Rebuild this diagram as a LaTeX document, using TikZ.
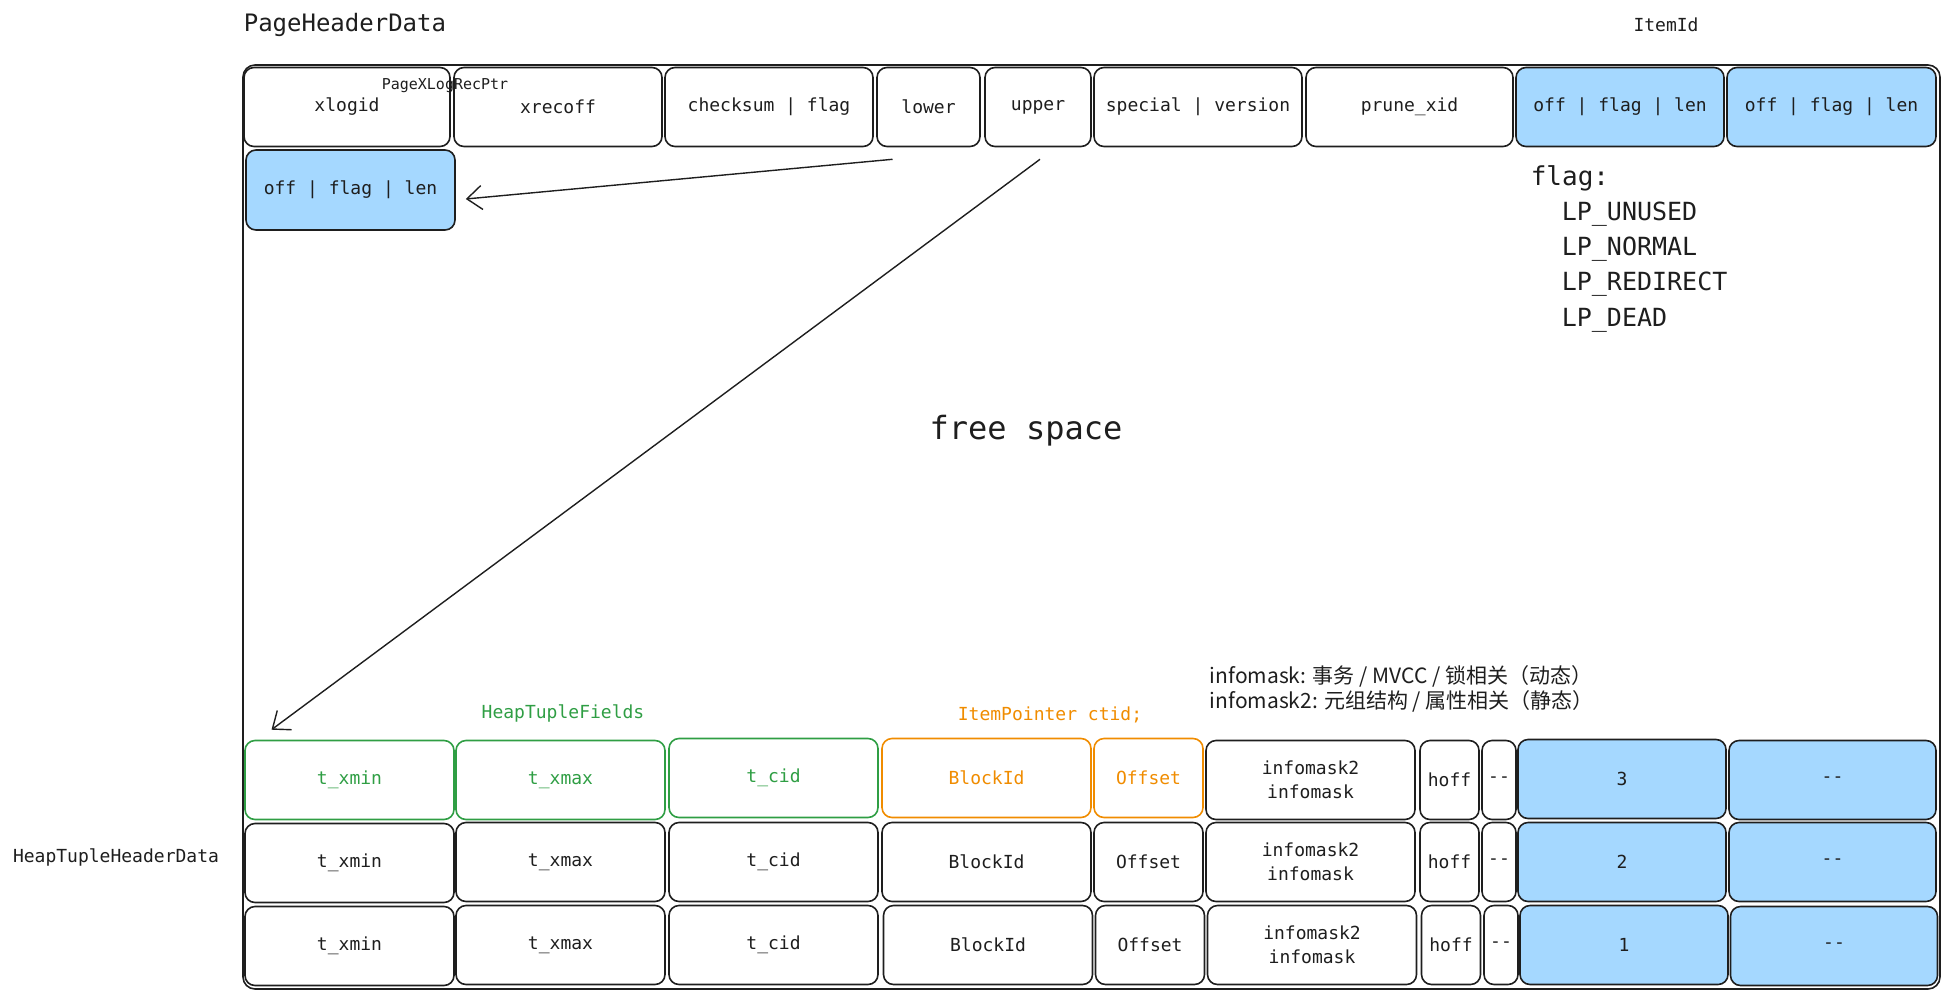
\documentclass[tikz,border=0pt]{standalone}
\usepackage{fontspec}
\setmainfont{DejaVu Sans Mono}
\newfontfamily\cjk{Noto Sans CJK SC}
\usetikzlibrary{arrows.meta}
\definecolor{ink}{HTML}{1E1E1E}
\definecolor{itemblue}{HTML}{A5D8FF}
\definecolor{fieldgreen}{HTML}{2F9E44}
\definecolor{ctidorange}{HTML}{F08C00}
\newcommand{\fsz}[2]{\fontsize{#1}{#2}\selectfont}

\tikzset{every picture/.style={line width=1.6pt},
	cell/.style={draw=ink,rounded corners=10pt,minimum height=79pt,inner sep=0pt,text=ink,font=\fsz{18}{24},align=center},
	idbox/.style={cell,fill=itemblue},
	greencell/.style={cell,draw=fieldgreen,text=fieldgreen},
	orangecell/.style={cell,draw=ctidorange,text=ctidorange},
	txt/.style={text=ink,inner sep=0pt,font=\fsz{18}{24}}}

\begin{document}
\begin{tikzpicture}[>={Straight Barb[length=15pt,width=24pt]},x=1pt,y=-1pt]
	\useasboundingbox (0,0) rectangle (1950,998);
	%Khung trang
	\draw[ink,rounded corners=12pt] (243,65) rectangle (1940,989);
	%Tieu de
	\node[txt,anchor=west,font=\fsz{24}{30}] (phd) at (243,25) {PageHeaderData};
	\node[txt] (itemid) at (1666,25) {ItemId};
	\node[txt] (heaphd) at (116,857) {HeapTupleHeaderData};
	%Hang dau: PageHeaderData
	\node[cell,minimum width=206pt] (xlogid) at (347,107) {xlogid};
	\node[cell,minimum width=208pt] (xrecoff) at (558,107) {xrecoff};
	\node[cell,minimum width=208pt] (checksum) at (769,107) {checksum | flag};
	\node[cell,minimum width=103pt] (lower) at (928.5,107) {lower};
	\node[cell,minimum width=106pt] (upper) at (1038,107) {upper};
	\node[cell,minimum width=208pt] (special) at (1198,107) {special | version};
	\node[cell,minimum width=207pt] (prune) at (1409.5,107) {prune\_xid};
	\node[idbox,minimum width=208pt] (lpa) at (1620,107) {off | flag | len};
	\node[idbox,minimum width=209pt] (lpb) at (1831.5,107) {off | flag | len};
	\node[txt,font=\fsz{15}{18}] (xlogptr) at (445,86) {PageXLogRecPtr};
	%ItemId moi
	\node[idbox,minimum width=209pt,minimum height=80pt] (slot) at (350.5,190) {off | flag | len};
	%Gia tri flag
	\node[txt,anchor=west,font=\fsz{26}{32}] (flagtitle) at (1530,178) {flag:};
	\node[txt,anchor=west,font=\fsz{25}{32}] (unused) at (1561,214) {LP\_UNUSED};
	\node[txt,anchor=west,font=\fsz{25}{32}] (normal) at (1561,249) {LP\_NORMAL};
	\node[txt,anchor=west,font=\fsz{25}{32}] (redirect) at (1561,284) {LP\_REDIRECT};
	\node[txt,anchor=west,font=\fsz{25}{32}] (dead) at (1561,320) {LP\_DEAD};
	%Vung trong
	\node[txt,font=\fsz{32}{38}] (free) at (1026,431) {free space};
	%Chu thich
	\node[txt,text=fieldgreen] (fields) at (563,713) {HeapTupleFields};
	\node[txt,text=ctidorange] (ctid) at (1050,715) {ItemPointer ctid;};
	\node[txt,anchor=west,align=left,font=\cjk\fsz{21}{25}] (masknote) at (1209,689) {infomask: 事务 / MVCC / 锁相关（动态）\\infomask2: 元组结构 / 属性相关（静态）};
	%Tuple 3
	\node[greencell,minimum width=209pt] (xmin1) at (349.5,780) {t\_xmin};
	\node[greencell,minimum width=209pt] (xmax1) at (560.5,780) {t\_xmax};
	\node[greencell,minimum width=209pt] (cid1) at (773.5,778) {t\_cid};
	\node[orangecell,minimum width=209pt] (blk1) at (986.5,778) {BlockId};
	\node[orangecell,minimum width=109pt] (off1) at (1148.5,778) {Offset};
	\node[cell,minimum width=209pt] (mask1) at (1310.5,780) {infomask2\\infomask};
	\node[cell,minimum width=59pt] (hoff1) at (1449.5,780) {hoff};
	\node[cell,minimum width=34pt] (pad1) at (1499,780) {-{}-};
	\node[idbox,minimum width=208pt] (data1) at (1622,779) {3};
	\node[idbox,minimum width=207pt] (tail1) at (1832.5,780) {-{}-};
	%Tuple 2
	\node[cell,minimum width=209pt] (xmin2) at (349.5,863) {t\_xmin};
	\node[cell,minimum width=209pt] (xmax2) at (560.5,862) {t\_xmax};
	\node[cell,minimum width=209pt] (cid2) at (773.5,862) {t\_cid};
	\node[cell,minimum width=209pt] (blk2) at (986.5,862) {BlockId};
	\node[cell,minimum width=109pt] (off2) at (1148.5,862) {Offset};
	\node[cell,minimum width=209pt] (mask2) at (1310.5,862) {infomask2\\infomask};
	\node[cell,minimum width=59pt] (hoff2) at (1449.5,862) {hoff};
	\node[cell,minimum width=34pt] (pad2) at (1499,862) {-{}-};
	\node[idbox,minimum width=208pt] (data2) at (1622,862) {2};
	\node[idbox,minimum width=207pt] (tail2) at (1832.5,862) {-{}-};
	%Tuple 1
	\node[cell,minimum width=209pt] (xmin3) at (349.5,946) {t\_xmin};
	\node[cell,minimum width=209pt] (xmax3) at (560.5,945) {t\_xmax};
	\node[cell,minimum width=209pt] (cid3) at (773.5,945) {t\_cid};
	\node[cell,minimum width=209pt] (blk3) at (988,945) {BlockId};
	\node[cell,minimum width=109pt] (off3) at (1150,945) {Offset};
	\node[cell,minimum width=209pt] (mask3) at (1312,945) {infomask2\\infomask};
	\node[cell,minimum width=59pt] (hoff3) at (1451,945) {hoff};
	\node[cell,minimum width=34pt] (pad3) at (1501,945) {-{}-};
	\node[idbox,minimum width=208pt] (data3) at (1624,945) {1};
	\node[idbox,minimum width=207pt] (tail3) at (1834,946) {-{}-};
	%Mui ten
	\draw[->,ink,line width=1.4pt] ([shift={(-36,12)}]lower.south) -- ([shift={(10,9)}]slot.east);
	\draw[->,ink,line width=1.4pt] ([shift={(2,12)}]upper.south) -- ([shift={(-78,-10)}]xmin1.north);
\end{tikzpicture}
\end{document}
